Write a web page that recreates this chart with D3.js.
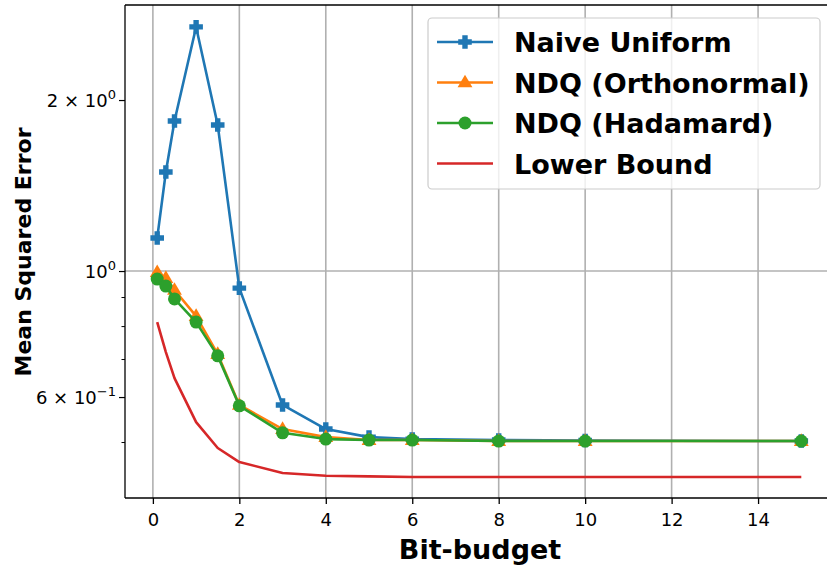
<!DOCTYPE html>
<html><head><meta charset="utf-8">
<script src="https://d3js.org/d3.v7.min.js"></script>
<style>body{margin:0;background:#fff}svg{display:block}text{font-family:"DejaVu Sans",sans-serif}</style>
</head><body><svg id="c" width="827" height="566"></svg>
<script>
const xs = [0.1, 0.3, 0.5, 1, 1.5, 2, 3, 4, 5, 6, 8, 10, 15];
const naive = [1.143, 1.494, 1.837, 2.69, 1.807, 0.933, 0.581, 0.527, 0.510, 0.506, 0.504, 0.503, 0.502];
const ortho = [0.995, 0.972, 0.926, 0.833, 0.714, 0.581, 0.527, 0.510, 0.504, 0.504, 0.502, 0.502, 0.502];
const hada  = [0.968, 0.941, 0.893, 0.813, 0.709, 0.579, 0.519, 0.506, 0.504, 0.504, 0.502, 0.502, 0.502];
const lower = [0.813, 0.720, 0.648, 0.542, 0.488, 0.461, 0.441, 0.436, 0.435, 0.434, 0.434, 0.434, 0.434];
const seriesNames = ["Naive Uniform", "NDQ (Orthonormal)", "NDQ (Hadamard)", "Lower Bound"];
const colors = ["#1f77b4", "#ff7f0e", "#2ca02c", "#d62728"];
const markers = ["plus", "tri", "circle", null];
const xTicks = [0, 2, 4, 6, 8, 10, 12, 14];
const yLabeled = [{v:2, m:"2", e:"0"}, {v:1, m:null, e:"0"}, {v:0.6, m:"6", e:"\u22121"}];
const yMinor = [0.5, 0.7, 0.8, 0.9];

const svg = d3.select("#c");
const L = 125, R = 833.5, T = 5, B = 498;
const x = d3.scaleLinear().domain([-0.645, 15.745]).range([L, R]);
const y = d3.scaleLog().domain([0.3985, 2.94]).range([B, T]);

// grid
const g = svg.append("g");
g.selectAll(".gx").data(xTicks).enter().append("line")
  .attr("x1", d => x(d)).attr("x2", d => x(d)).attr("y1", T).attr("y2", B)
  .attr("stroke", "#b0b0b0").attr("stroke-width", 1.6);
g.append("line").attr("x1", L).attr("x2", R).attr("y1", y(1)).attr("y2", y(1))
  .attr("stroke", "#b0b0b0").attr("stroke-width", 1.6);

// axes
const xAxis = d3.axisBottom(x).tickValues(xTicks).tickSize(6).tickPadding(9).tickFormat(d3.format("d"));
const gx = svg.append("g").attr("transform", `translate(0,${B})`).call(xAxis);
gx.attr("font-size", 18).attr("font-family", "DejaVu Sans");
gx.select(".domain").remove();
gx.selectAll("line").attr("stroke", "#000").attr("stroke-width", 1.3);
gx.selectAll("text").style("font-size", "18px").attr("fill", "#000");

const yAxisMinor = d3.axisLeft(y).tickValues(yMinor).tickSize(3.5).tickFormat("");
const gym = svg.append("g").attr("transform", `translate(${L},0)`).call(yAxisMinor);
gym.select(".domain").remove();
gym.selectAll("line").attr("stroke", "#000").attr("stroke-width", 1);

const yAxisMain = d3.axisLeft(y).tickValues(yLabeled.map(d => d.v)).tickSize(6).tickFormat("");
const gy = svg.append("g").attr("transform", `translate(${L},0)`).call(yAxisMain);
gy.select(".domain").remove();
gy.selectAll("line").attr("stroke", "#000").attr("stroke-width", 1.2);
yLabeled.forEach(t => {
  const tx = svg.append("text").attr("x", L - 9).attr("y", y(t.v) + 6.5)
    .attr("text-anchor", "end").style("font-size", "18px").attr("fill", "#000");
  if (t.m) tx.append("tspan").text(t.m + " \u00d7 10");
  else tx.append("tspan").text("10");
  tx.append("tspan").attr("dy", -8).style("font-size", "13px").text(t.e);
});

// series
const data = [naive, ortho, hada, lower];
const line = d3.line().x(d => x(d[0])).y(d => y(d[1]));
function drawMarker(sel, type, color, cx, cy) {
  if (type === "circle") {
    sel.append("circle").attr("cx", cx).attr("cy", cy).attr("r", 6.5).attr("fill", color);
  } else if (type === "tri") {
    const s = 7.8;
    sel.append("path").attr("d", `M${cx},${cy - s} L${cx + s * 0.95},${cy + s * 0.62} L${cx - s * 0.95},${cy + s * 0.62}Z`).attr("fill", color);
  } else if (type === "plus") {
    const a = 6.8, b = 2.7;
    sel.append("path").attr("d",
      `M${cx - b},${cy - a}H${cx + b}V${cy - b}H${cx + a}V${cy + b}H${cx + b}V${cy + a}H${cx - b}V${cy + b}H${cx - a}V${cy - b}H${cx - b}Z`)
      .attr("fill", color);
  }
}
svg.append("defs").append("clipPath").attr("id", "cp").append("rect")
  .attr("x", L).attr("y", T).attr("width", R - L).attr("height", B - T);
const plot = svg.append("g").attr("clip-path", "url(#cp)");
data.forEach((vals, i) => {
  const pts = xs.map((xv, j) => [xv, vals[j]]);
  plot.append("path").datum(pts).attr("d", line).attr("fill", "none")
    .attr("stroke", colors[i]).attr("stroke-width", 2.6).attr("stroke-linejoin", "round");
  if (markers[i]) pts.forEach(p => drawMarker(plot, markers[i], colors[i], x(p[0]), y(p[1])));
});

// spines
svg.append("line").attr("x1", L).attr("x2", L).attr("y1", T).attr("y2", B).attr("stroke", "#000").attr("stroke-width", 1.3);
svg.append("line").attr("x1", L).attr("x2", R).attr("y1", B).attr("y2", B).attr("stroke", "#000").attr("stroke-width", 1.3);
svg.append("line").attr("x1", L).attr("x2", R).attr("y1", T).attr("y2", T).attr("stroke", "#000").attr("stroke-width", 1.3);
svg.append("line").attr("x1", R).attr("x2", R).attr("y1", T).attr("y2", B).attr("stroke", "#000").attr("stroke-width", 1.3);

// labels
svg.append("text").attr("x", 480).attr("y", 559).attr("text-anchor", "middle")
  .style("font-size", "27px").attr("font-weight", "bold").text("Bit-budget");
svg.append("text").attr("transform", "translate(31,252) rotate(-90)").attr("text-anchor", "middle")
  .style("font-size", "22px").attr("font-weight", "bold").text("Mean Squared Error");

// legend
const lg = svg.append("g");
lg.append("rect").attr("x", 428).attr("y", 18).attr("width", 392).attr("height", 171).attr("rx", 4)
  .attr("fill", "#fff").attr("fill-opacity", 0.8).attr("stroke", "#cccccc").attr("stroke-width", 1.2);
seriesNames.forEach((n, i) => {
  const yy = 42 + i * 40.5;
  lg.append("line").attr("x1", 437).attr("x2", 493).attr("y1", yy).attr("y2", yy)
    .attr("stroke", colors[i]).attr("stroke-width", 2.6);
  if (markers[i]) drawMarker(lg, markers[i], colors[i], 465, yy);
  lg.append("text").attr("x", 514).attr("y", yy + 10).style("font-size", "27px").attr("font-weight", "bold").text(n);
});
</script></body></html>
